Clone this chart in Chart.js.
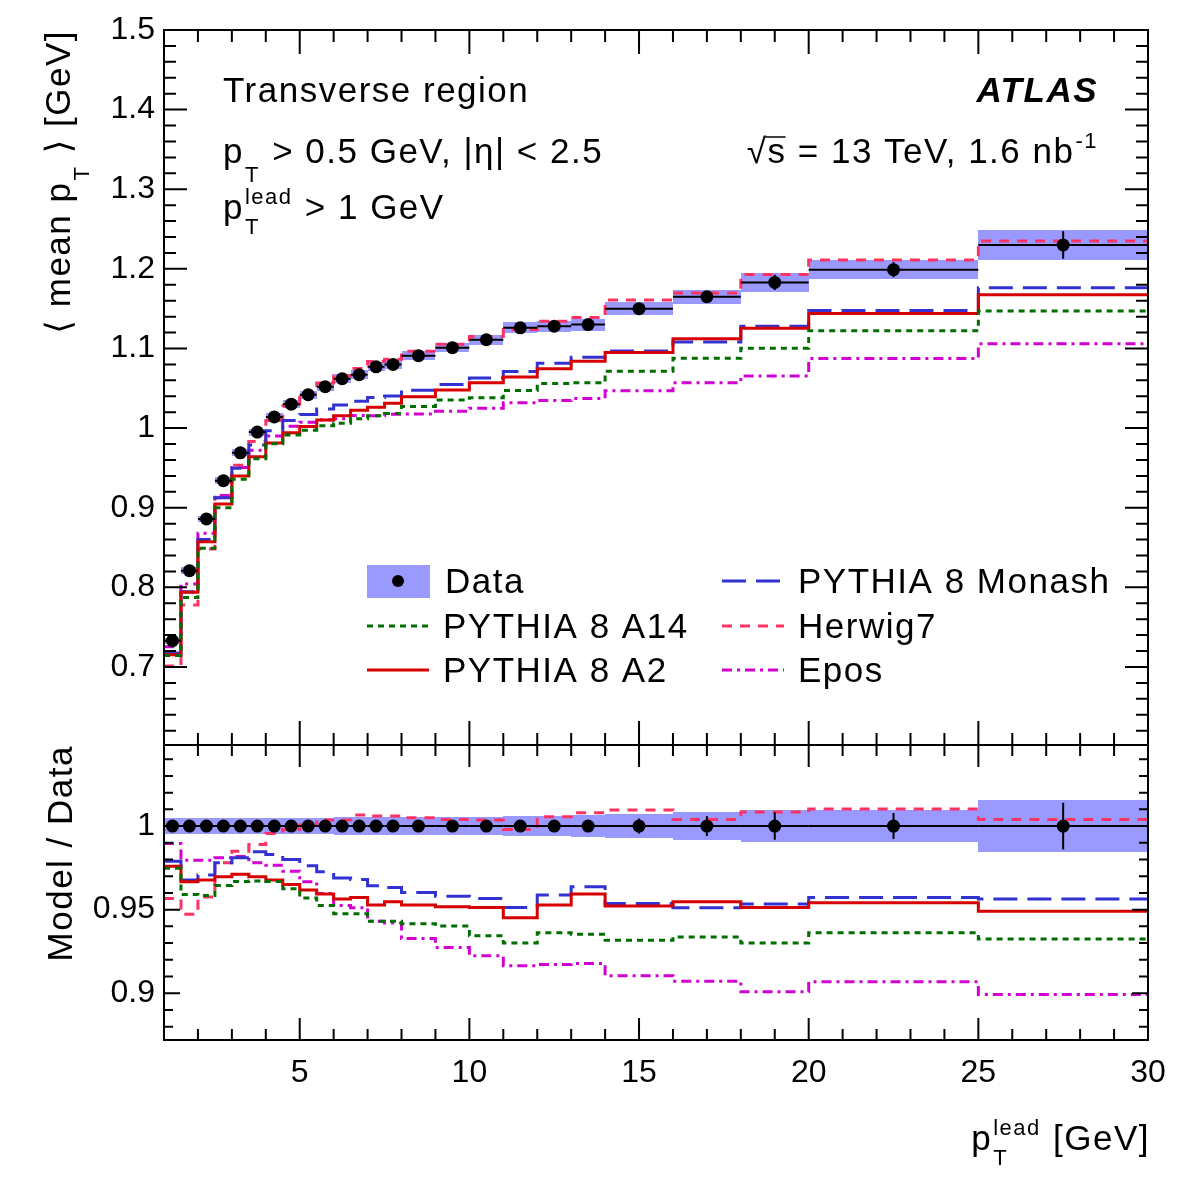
<!DOCTYPE html>
<html lang="en">
<head>
<meta charset="UTF-8">
<title>Transverse region - mean pT vs leading pT</title>
<script src="https://cdn.jsdelivr.net/npm/chart.js"></script>
<style>
  html, body { margin: 0; padding: 0; background: #fff; }
  #wrap { position: relative; width: 1182px; height: 1182px; }
</style>
</head>
<body>
<div id="wrap"><canvas id="c" width="1182" height="1182"></canvas></div>
<script>
// bin edges of p_T^lead [GeV]
const binEdges = [1, 1.5, 2, 2.5, 3, 3.5, 4, 4.5, 5, 5.5, 6, 6.5, 7, 7.5, 8, 9, 10, 11, 12, 13, 14, 16, 18, 20, 25, 30];

// top pad: <mean pT> [GeV]
const dataMean = [0.733, 0.821, 0.886, 0.934, 0.969, 0.995, 1.014, 1.030, 1.042, 1.052, 1.062, 1.067, 1.077, 1.080, 1.091, 1.101, 1.111, 1.126, 1.128, 1.130, 1.150, 1.165, 1.183, 1.199, 1.230];
const dataStat = [0.001, 0.001, 0.001, 0.001, 0.001, 0.001, 0.001, 0.001, 0.001, 0.001, 0.002, 0.002, 0.002, 0.002, 0.002, 0.002, 0.002, 0.003, 0.003, 0.003, 0.005, 0.007, 0.0097, 0.0094, 0.0172];
const dataSyst = [0.004, 0.004, 0.004, 0.004, 0.0045, 0.0045, 0.005, 0.005, 0.005, 0.005, 0.0055, 0.0055, 0.0055, 0.0055, 0.006, 0.006, 0.0065, 0.007, 0.007, 0.0075, 0.008, 0.0088, 0.0116, 0.0116, 0.019];

const a14     = [0.7145, 0.7873, 0.8492, 0.8999, 0.9359, 0.9614, 0.9803, 0.9914, 0.9972, 1.0030, 1.0062, 1.0119, 1.0156, 1.0184, 1.0272, 1.0352, 1.0380, 1.0473, 1.0559, 1.0569, 1.0714, 1.0878, 1.1003, 1.1224, 1.1470];
const a2      = [0.7154, 0.7937, 0.8574, 0.9047, 0.9400, 0.9639, 0.9812, 0.9941, 1.0021, 1.0101, 1.0156, 1.0224, 1.0261, 1.0311, 1.0394, 1.0478, 1.0569, 1.0642, 1.0746, 1.0840, 1.0949, 1.1122, 1.1254, 1.1440, 1.1674];
const monash  = [0.7176, 0.7945, 0.8600, 0.9125, 0.9496, 0.9787, 0.9968, 1.0094, 1.0172, 1.0241, 1.0291, 1.0338, 1.0385, 1.0404, 1.0477, 1.0548, 1.0629, 1.0712, 1.0814, 1.0890, 1.0968, 1.1080, 1.1278, 1.1478, 1.1762];
const herwig7 = [0.7013, 0.7777, 0.8483, 0.9125, 0.9535, 0.9831, 1.0094, 1.0279, 1.0426, 1.0568, 1.0658, 1.0750, 1.0835, 1.0865, 1.0965, 1.1054, 1.1150, 1.1237, 1.1343, 1.1390, 1.1610, 1.1697, 1.1929, 1.2112, 1.2349];
const epos    = [0.7254, 0.8043, 0.8679, 0.9153, 0.9504, 0.9721, 0.9902, 1.0022, 1.0073, 1.0106, 1.0116, 1.0159, 1.0156, 1.0174, 1.0176, 1.0211, 1.0248, 1.0319, 1.0346, 1.0371, 1.0470, 1.0569, 1.0656, 1.0873, 1.1060];

// bottom pad: Model / Data
const ratioData = [1, 1, 1, 1, 1, 1, 1, 1, 1, 1, 1, 1, 1, 1, 1, 1, 1, 1, 1, 1, 1, 1, 1, 1, 1];
const ratioStat = [0.001, 0.001, 0.001, 0.001, 0.001, 0.001, 0.001, 0.001, 0.001, 0.001, 0.002, 0.002, 0.002, 0.002, 0.002, 0.002, 0.002, 0.003, 0.003, 0.003, 0.0045, 0.006, 0.0082, 0.0078, 0.014];
const ratioSyst = [0.005, 0.005, 0.005, 0.005, 0.005, 0.005, 0.005, 0.005, 0.005, 0.005, 0.0052, 0.0052, 0.0052, 0.0052, 0.0055, 0.0055, 0.0056, 0.006, 0.0062, 0.0068, 0.007, 0.0082, 0.0096, 0.0096, 0.0153];

const ratioA14     = [0.9747, 0.959, 0.9585, 0.9645, 0.9668, 0.9672, 0.9668, 0.9625, 0.957, 0.9525, 0.9475, 0.9475, 0.943, 0.943, 0.9415, 0.9402, 0.9343, 0.9301, 0.9361, 0.9353, 0.9317, 0.9337, 0.9301, 0.9361, 0.9325];
const ratioA2      = [0.976, 0.9667, 0.9677, 0.9697, 0.9711, 0.9697, 0.9677, 0.9651, 0.9617, 0.9593, 0.9563, 0.9573, 0.9527, 0.9547, 0.9527, 0.9517, 0.9513, 0.9451, 0.9527, 0.9593, 0.9521, 0.9547, 0.9513, 0.9541, 0.9491];
const ratioMonash  = [0.979, 0.9677, 0.9707, 0.978, 0.981, 0.9846, 0.983, 0.980, 0.9762, 0.9726, 0.969, 0.968, 0.9643, 0.9633, 0.9603, 0.958, 0.9567, 0.9513, 0.9587, 0.9637, 0.9537, 0.9511, 0.9533, 0.9573, 0.9563];
const ratioHerwig7 = [0.9567, 0.9473, 0.9575, 0.978, 0.985, 0.989, 0.9955, 0.998, 1.0006, 1.0036, 1.0036, 1.0066, 1.006, 1.006, 1.005, 1.004, 1.0036, 0.998, 1.0056, 1.008, 1.0096, 1.004, 1.0084, 1.0102, 1.004];
const ratioEpos    = [0.9896, 0.9796, 0.9796, 0.981, 0.9818, 0.978, 0.9765, 0.973, 0.9667, 0.9597, 0.9525, 0.9512, 0.943, 0.942, 0.9327, 0.9274, 0.9224, 0.9164, 0.9172, 0.9178, 0.9104, 0.9072, 0.9008, 0.9068, 0.8992];

// axis ticks
const xTicks = [5, 10, 15, 20, 25, 30];
const xTickLabels = ['5', '10', '15', '20', '25', '30'];
const topTicks = [0.7, 0.8, 0.9, 1.0, 1.1, 1.2, 1.3, 1.4, 1.5];
const topTickLabels = ['0.7', '0.8', '0.9', '1', '1.1', '1.2', '1.3', '1.4', '1.5'];
const ratioTicks = [0.9, 0.95, 1.0];
const ratioTickLabels = ['0.9', '0.95', '1'];

const FONT = "'Liberation Sans', Arial, Helvetica, 'DejaVu Sans', sans-serif";
const BAND = 'rgb(153,153,255)';

const models = [
  { label: 'PYTHIA 8 A14',    top: a14,     ratio: ratioA14,     color: 'rgb(0,110,0)',    dash: [6, 5] },
  { label: 'PYTHIA 8 A2',     top: a2,      ratio: ratioA2,      color: 'rgb(215,0,0)',    dash: [] },
  { label: 'PYTHIA 8 Monash', top: monash,  ratio: ratioMonash,  color: 'rgb(50,50,210)',  dash: [24, 10] },
  { label: 'Herwig7',         top: herwig7, ratio: ratioHerwig7, color: 'rgb(255,50,100)', dash: [10, 8] },
  { label: 'Epos',            top: epos,    ratio: ratioEpos,    color: 'rgb(210,0,210)',  dash: [10, 5, 3, 5] }
];

// histogram as a step line: one point per left edge, plus the last right edge
function histPoints(vals) {
  return binEdges.map((e, i) => ({ x: e, y: vals[Math.min(i, vals.length - 1)] }));
}
function centerPoints(vals) {
  return vals.map((v, i) => ({ x: (binEdges[i] + binEdges[i + 1]) / 2, y: v }));
}

function dataset(label, points, axis) {
  return {
    label, data: points, yAxisID: axis, showLine: false,
    pointRadius: 6.5, pointBackgroundColor: '#000', pointBorderWidth: 0, borderColor: '#000'
  };
}
function histDataset(m, vals, axis) {
  return {
    label: m.label, data: histPoints(vals), yAxisID: axis,
    borderColor: m.color, borderDash: m.dash, borderWidth: 3,
    pointRadius: 0, stepped: 'before', fill: false
  };
}

const datasets = [
  dataset('Data', centerPoints(dataMean), 'y'),
  dataset('Data ratio', centerPoints(ratioData), 'yr')
];
models.forEach(m => datasets.push(histDataset(m, m.top, 'y')));
models.forEach(m => datasets.push(histDataset(m, m.ratio, 'yr')));

function fnt(size, style) { return (style ? style + ' ' : '') + size + 'px ' + FONT; }

// text with simple sub/superscripts: strings are normal text, {sub, sup} are scripts
function richWidth(ctx, parts, size) {
  let w = 0;
  for (const p of parts) {
    if (typeof p === 'string') { ctx.font = fnt(size); w += ctx.measureText(p).width; }
    else {
      ctx.font = fnt(Math.round(size * 0.62));
      w += Math.max(p.sub ? ctx.measureText(p.sub).width : 0, p.sup ? ctx.measureText(p.sup).width : 0) + 2;
    }
  }
  return w;
}
function drawRich(ctx, parts, x, y, size, align) {
  let cx = align === 'right' ? x - richWidth(ctx, parts, size) : x;
  ctx.textAlign = 'left';
  ctx.textBaseline = 'alphabetic';
  for (const p of parts) {
    if (typeof p === 'string') {
      ctx.font = fnt(size);
      ctx.fillText(p, cx, y);
      cx += ctx.measureText(p).width;
    } else {
      ctx.font = fnt(Math.round(size * 0.62));
      let w = 0;
      if (p.sub) {
        ctx.fillText(p.sub, cx + 1, y + size * (p.sup ? 0.42 : 0.55));
        w = ctx.measureText(p.sub).width;
      }
      if (p.sup) {
        ctx.fillText(p.sup, cx + 1, y - size * 0.42);
        w = Math.max(w, ctx.measureText(p.sup).width);
      }
      cx += w + 2;
    }
  }
  return cx;
}

const bandPlugin = {
  id: 'bands',
  beforeDatasetsDraw(chart) {
    const { ctx, scales } = chart;
    const x = scales.x;
    ctx.save();
    ctx.fillStyle = BAND;
    [[dataMean, dataSyst, scales.y], [ratioData, ratioSyst, scales.yr]].forEach(([vals, errs, ys]) => {
      vals.forEach((v, i) => {
        const x0 = Math.round(x.getPixelForValue(binEdges[i]));
        const x1 = Math.round(x.getPixelForValue(binEdges[i + 1]));
        const y0 = Math.round(ys.getPixelForValue(v + errs[i]));
        const y1 = Math.round(ys.getPixelForValue(v - errs[i]));
        ctx.fillRect(x0, y0, x1 - x0, y1 - y0);
      });
    });
    ctx.restore();
  }
};

const errorPlugin = {
  id: 'errors',
  afterDatasetsDraw(chart) {
    const { ctx, scales } = chart;
    const x = scales.x;
    ctx.save();
    ctx.strokeStyle = '#000';
    ctx.lineWidth = 2;
    [[dataMean, dataStat, scales.y], [ratioData, ratioStat, scales.yr]].forEach(([vals, errs, ys]) => {
      vals.forEach((v, i) => {
        const x0 = x.getPixelForValue(binEdges[i]);
        const x1 = x.getPixelForValue(binEdges[i + 1]);
        const xc = x.getPixelForValue((binEdges[i] + binEdges[i + 1]) / 2);
        const yc = ys.getPixelForValue(v);
        ctx.beginPath();
        ctx.moveTo(x0, yc); ctx.lineTo(x1, yc);
        ctx.moveTo(xc, ys.getPixelForValue(v + errs[i]));
        ctx.lineTo(xc, ys.getPixelForValue(v - errs[i]));
        ctx.stroke();
      });
    });
    ctx.restore();
  }
};

// ROOT style frame with inward ticks on all four sides of each pad
const framePlugin = {
  id: 'frame',
  afterDraw(chart) {
    const { ctx, scales } = chart;
    const x = scales.x;
    const L = x.left, R = x.right;
    ctx.save();
    ctx.strokeStyle = '#000';
    ctx.lineWidth = 2;
    const pads = [
      { s: scales.y, minorStep: 0.02, majorEvery: 5, yMaj: 23, yMin: 12, xMaj: 24, xMin: 12 },
      { s: scales.yr, minorStep: 0.01, majorEvery: 5, yMaj: 16, yMin: 9, xMaj: 22, xMin: 11 }
    ];
    pads.forEach(p => {
      const T = p.s.top, B = p.s.bottom;
      ctx.strokeRect(L, T, R - L, B - T);
      ctx.beginPath();
      const k0 = Math.ceil(p.s.min / p.minorStep - 1e-6);
      const k1 = Math.floor(p.s.max / p.minorStep + 1e-6);
      for (let k = k0; k <= k1; k++) {
        const len = k % p.majorEvery === 0 ? p.yMaj : p.yMin;
        const py = p.s.getPixelForValue(k * p.minorStep);
        if (py < T + 1 || py > B - 1) continue;
        ctx.moveTo(L, py); ctx.lineTo(L + len, py);
        ctx.moveTo(R, py); ctx.lineTo(R - len, py);
      }
      for (let v = 2; v < 30; v++) {
        const len = v % 5 === 0 ? p.xMaj : p.xMin;
        const px = x.getPixelForValue(v);
        ctx.moveTo(px, B); ctx.lineTo(px, B - len);
        ctx.moveTo(px, T); ctx.lineTo(px, T + len);
      }
      ctx.stroke();
    });
    ctx.restore();
  }
};

const textPlugin = {
  id: 'texts',
  afterDraw(chart) {
    const { ctx } = chart;
    ctx.save();
    ctx.fillStyle = '#000';
    ctx.letterSpacing = '1.5px';
    const S = 35;
    drawRich(ctx, ['Transverse region'], 223, 102, S);
    drawRich(ctx, ['p', { sub: 'T' }, ' > 0.5 GeV, |\u03B7| < 2.5'], 223, 163, S);
    drawRich(ctx, ['p', { sub: 'T', sup: 'lead' }, ' > 1 GeV'], 223, 219, S);

    ctx.font = fnt(S, 'italic bold');
    ctx.textAlign = 'right';
    ctx.fillText('ATLAS', 1098, 102);

    const parts = ['\u221As = 13 TeV, 1.6 nb', { sup: '-1' }];
    const w = richWidth(ctx, parts, S);
    const x0 = 1099 - w;
    drawRich(ctx, parts, x0, 163, S);
    ctx.font = fnt(S);
    const rw = ctx.measureText('\u221A').width;
    const sw = ctx.measureText('s').width;
    ctx.lineWidth = 1.5;
    ctx.strokeStyle = '#000';
    ctx.beginPath();
    ctx.moveTo(x0 + rw - 3, 137); ctx.lineTo(x0 + rw + sw - 1, 137);
    ctx.stroke();

    // x axis title
    drawRich(ctx, ['p', { sub: 'T', sup: 'lead' }, ' [GeV]'], 1150, 1150, S, 'right');

    // y axis titles (rotated, aligned to the top of each pad)
    ctx.save();
    ctx.translate(70, 30);
    ctx.rotate(-Math.PI / 2);
    drawRich(ctx, ['\u27E8 mean p', { sub: 'T' }, ' \u27E9 [GeV]'], 0, 0, S, 'right');
    ctx.restore();
    ctx.save();
    ctx.translate(72, chart.scales.yr.top);
    ctx.rotate(-Math.PI / 2);
    drawRich(ctx, ['Model / Data'], 0, 0, S, 'right');
    ctx.restore();

    // legend, two columns
    const entries = [
      { ds: null, x: 367, y: 581 },
      { ds: models[0], x: 367, y: 626 },
      { ds: models[1], x: 367, y: 670 },
      { ds: models[2], x: 722, y: 581 },
      { ds: models[3], x: 722, y: 626 },
      { ds: models[4], x: 722, y: 670 }
    ];
    entries.forEach(e => {
      if (!e.ds) {
        ctx.fillStyle = BAND;
        ctx.fillRect(e.x, e.y - 16, 63, 33);
        ctx.fillStyle = '#000';
        ctx.beginPath();
        ctx.arc(e.x + 31, e.y, 6, 0, Math.PI * 2);
        ctx.fill();
        drawRich(ctx, ['Data'], e.x + 78, e.y + 12, S);
      } else {
        ctx.strokeStyle = e.ds.color;
        ctx.lineWidth = 3;
        ctx.setLineDash(e.ds.dash);
        ctx.beginPath();
        ctx.moveTo(e.x, e.y); ctx.lineTo(e.x + 62, e.y);
        ctx.stroke();
        ctx.setLineDash([]);
        ctx.fillStyle = '#000';
        drawRich(ctx, [e.ds.label], e.x + 76, e.y + 12, S);
      }
    });
    ctx.restore();
  }
};

Chart.defaults.font.family = FONT;
Chart.defaults.font.size = 32;
Chart.defaults.color = '#000';

new Chart(document.getElementById('c'), {
  type: 'line',
  data: { datasets },
  options: {
    responsive: false,
    animation: false,
    layout: { padding: { left: 0, right: 34, top: 30, bottom: 0 } },
    plugins: { legend: { display: false }, tooltip: { enabled: false } },
    scales: {
      x: {
        type: 'linear', min: 1, max: 30, position: 'bottom',
        grid: { display: false, drawTicks: false }, border: { display: false },
        ticks: { padding: 14, autoSkip: false, maxRotation: 0, callback: (v, i) => xTickLabels[i] },
        afterBuildTicks: s => { s.ticks = xTicks.map(v => ({ value: v })); },
        afterFit: s => { s.height = 142; }
      },
      y: {
        type: 'linear', min: 0.602, max: 1.5, position: 'left',
        stack: 'pads', stackWeight: 715, weight: 2,
        grid: { display: false, drawTicks: false }, border: { display: false },
        ticks: { padding: 9, autoSkip: false, callback: (v, i) => topTickLabels[i] },
        afterBuildTicks: s => { s.ticks = topTicks.map(v => ({ value: v })); },
        afterFit: s => { s.width = 164; }
      },
      yr: {
        type: 'linear', min: 0.872, max: 1.0485, position: 'left',
        stack: 'pads', stackWeight: 295, weight: 1,
        grid: { display: false, drawTicks: false }, border: { display: false },
        ticks: { padding: 9, autoSkip: false, callback: (v, i) => ratioTickLabels[i] },
        afterBuildTicks: s => { s.ticks = ratioTicks.map(v => ({ value: v })); },
        afterFit: s => { s.width = 164; }
      }
    }
  },
  plugins: [bandPlugin, errorPlugin, framePlugin, textPlugin]
});
</script>
</body>
</html>
